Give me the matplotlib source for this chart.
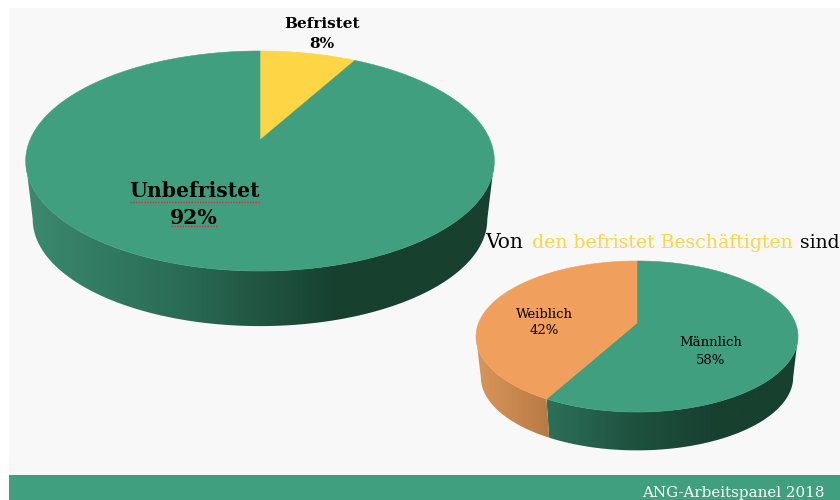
import numpy as np
import matplotlib.pyplot as plt
from matplotlib.colors import LinearSegmentedColormap
from matplotlib.patches import Polygon, Rectangle

# values
big_labels = ['Befristet', 'Unbefristet']
big_values = [8, 92]
small_labels = ['Männlich', 'Weiblich']
small_values = [58, 42]

GREEN = '#3f9f7e'
YELLOW = '#fdd545'
ORANGE = '#f19f5c'
serif = 'DejaVu Serif'

fig = plt.figure(figsize=(8.4, 5), dpi=100, facecolor='white')
ax = fig.add_axes([0, 0, 1, 1])
ax.axis('off')


def arc(start, end, cx, cy, a, b, k, scale=1.0, drop=0.0):
    # tilted circle seen in perspective, the centre ends up above the middle of the ellipse
    t = np.radians(np.linspace(start, end, max(int(end - start) * 2, 2)))
    w = 1 + k * np.cos(t)
    x = cx + scale * a * np.sin(t) / w
    y = cy + drop - scale * b * np.cos(t) / w
    return np.column_stack([x, y])


def side(start, end, cmap, x0, x1, geo, scale, drop):
    # only the front of the wall shows, between the left and right extremes of the rim
    right = np.degrees(np.arccos(-geo[4]))
    start, end = max(start, right), min(end, 360 - right)
    if end <= start:
        return
    top = arc(start, end, *geo)
    bottom = arc(start, end, *geo, scale=scale, drop=drop)
    poly = Polygon(np.vstack([top, bottom[::-1]]), closed=True, fc='none', ec='none')
    ax.add_patch(poly)
    img = ax.imshow(np.linspace(0, 1, 256).reshape(1, -1), cmap=cmap, aspect='auto',
                    extent=[x0, x1, 500, 0], zorder=2)
    img.set_clip_path(poly)


def pie3d(values, colors, side_maps, geo, scale, drop):
    total = sum(values)
    angle = 0
    for val, col, (cmap, x0, x1) in zip(values, colors, side_maps):
        end = angle + 360 * val / total
        side(angle, end, cmap, x0, x1, geo, scale, drop)
        angle = end
    angle = 0
    for val, col in zip(values, colors):
        end = angle + 360 * val / total
        pts = np.vstack([[geo[0], geo[1]], arc(angle, end, *geo)])
        ax.add_patch(Polygon(pts, closed=True, fc=col, ec=col, lw=0.4, zorder=3))
        angle = end


# background panel and footer
ax.add_patch(Rectangle((9, 8), 831, 467, fc='#f8f8f8', ec='none', zorder=0))
ax.add_patch(Rectangle((9, 475), 831, 25, fc=GREEN, ec='none', zorder=1))

green_big = LinearSegmentedColormap.from_list('gb', ['#3b8a70', '#2a6b55', '#17402f', '#17402f'], N=256)
green_small = LinearSegmentedColormap.from_list('gs', ['#2c7059', '#1f5240', '#17402f', '#17402f'], N=256)
orange_side = LinearSegmentedColormap.from_list('os', ['#d99659', '#b87a45'], N=256)

pie3d(big_values, [YELLOW, GREEN],
      [(green_big, 26, 494), (green_big, 26, 494)],
      (260, 140, 230, 106, 0.191), 0.97, 59)
pie3d(small_values, [GREEN, ORANGE],
      [(green_small, 547, 800), (orange_side, 476, 549)],
      (637, 323, 158.4, 73.1, 0.179), 0.97, 41)

# labels
ax.text(322, 24, big_labels[0], family=serif, weight='bold', fontsize=11, ha='center', va='center', zorder=5)
ax.text(322, 44, f'{big_values[0]}%', family=serif, weight='bold', fontsize=11, ha='center', va='center', zorder=5)
ax.text(194, 191, big_labels[1], family=serif, weight='bold', fontsize=14.7, ha='center', va='center', zorder=5)
ax.text(194, 218, f'{big_values[1]}%', family=serif, weight='bold', fontsize=14.7, ha='center', va='center', zorder=5)

# spell check underline
ax.plot([130, 259], [202, 202], color='#d8342c', lw=1, ls=(0, (1, 1)), zorder=5)
ax.plot([171, 218], [226, 226], color='#d8342c', lw=1, ls=(0, (1, 1)), zorder=5)

ax.text(711, 343, small_labels[0], family=serif, fontsize=9.5, ha='center', va='center', zorder=5)
ax.text(711, 360, f'{small_values[0]}%', family=serif, fontsize=9.5, ha='center', va='center', zorder=5)
ax.text(544, 314, small_labels[1], family=serif, fontsize=9.5, ha='center', va='center', zorder=5)
ax.text(544, 331, f'{small_values[1]}%', family=serif, fontsize=9.5, ha='center', va='center', zorder=5)

# heading in three colours
ax.text(485, 248, 'Von', family=serif, fontsize=14.5, color='black', va='baseline', zorder=5)
ax.text(532, 248, 'den befristet Beschäftigten', family=serif, fontsize=13.6, color=YELLOW, va='baseline', zorder=5)
ax.text(800, 248, 'sind', family=serif, fontsize=13.5, color='black', va='baseline', zorder=5)

ax.text(825, 497, 'ANG-Arbeitspanel 2018', family=serif, fontsize=10.9, color='white', ha='right', va='baseline', zorder=5)

ax.set_xlim(0, 840)
ax.set_ylim(500, 0)
fig.savefig('out.png', dpi=100)
